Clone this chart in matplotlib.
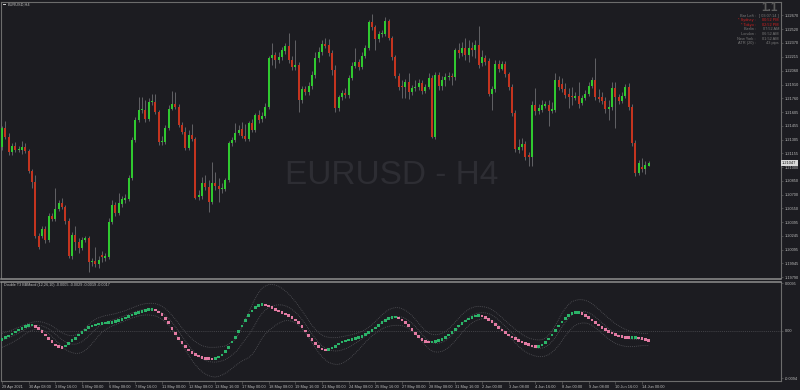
import numpy as np
import matplotlib
matplotlib.use("Agg")
import matplotlib.pyplot as plt
from matplotlib.patches import Rectangle
from matplotlib.transforms import blended_transform_factory

# EURUSD H4 candles, 29 Apr 2021 .. 14 Jun 2021
opens = [
    1.21223, 1.21432, 1.21333, 1.21168, 1.21234, 1.21190, 1.21190, 1.21223, 1.21179, 1.20959,
    1.20838, 1.20244, 1.20244, 1.20321, 1.20200, 1.20464, 1.20431, 1.20541, 1.20607, 1.20563,
    1.20409, 1.20024, 1.20255, 1.20178, 1.20112, 1.20200, 1.20222, 1.19958, 1.19969, 1.19936,
    1.20035, 1.20002, 1.20013, 1.20398, 1.20585, 1.20497, 1.20596, 1.20640, 1.20651, 1.20882,
    1.21300, 1.21520, 1.21630, 1.21630, 1.21531, 1.21718, 1.21718, 1.21608, 1.21278, 1.21278,
    1.21432, 1.21641, 1.21696, 1.21663, 1.21465, 1.21388, 1.21212, 1.21355, 1.21311, 1.20673,
    1.20684, 1.20827, 1.20783, 1.20618, 1.20827, 1.20794, 1.20761, 1.20761, 1.20860, 1.21267,
    1.21300, 1.21377, 1.21421, 1.21344, 1.21311, 1.21487, 1.21410, 1.21575, 1.21531, 1.21564,
    1.21663, 1.22202, 1.22235, 1.22180, 1.22213, 1.22279, 1.22334, 1.22180, 1.22103, 1.22125,
    1.21740, 1.21861, 1.21828, 1.21894, 1.22015, 1.22202, 1.22268, 1.22356, 1.22345, 1.22257,
    1.22070, 1.21652, 1.21773, 1.21817, 1.21795, 1.21982, 1.22114, 1.22158, 1.22103, 1.22224,
    1.22312, 1.22598, 1.22543, 1.22411, 1.22466, 1.22466, 1.22609, 1.22422, 1.22213, 1.22004,
    1.21894, 1.21883, 1.21938, 1.21828, 1.21872, 1.21883, 1.21927, 1.21839, 1.21883, 1.21982,
    1.21333, 1.22015, 1.21894, 1.21960, 1.21993, 1.22004, 1.21993, 1.22290, 1.22257, 1.22312,
    1.22235, 1.22312, 1.22290, 1.22345, 1.22147, 1.22202, 1.22169, 1.21806, 1.21861, 1.22136,
    1.22081, 1.22136, 1.22026, 1.21883, 1.21597, 1.21190, 1.21223, 1.21256, 1.21135, 1.21113,
    1.21685, 1.21619, 1.21630, 1.21674, 1.21685, 1.21619, 1.21630, 1.21960, 1.21916, 1.21861,
    1.21806, 1.21784, 1.21762, 1.21784, 1.21707, 1.21762, 1.21806, 1.21894, 1.21960, 1.21773,
    1.21773, 1.21729, 1.21641, 1.21663, 1.21872, 1.21773, 1.21729, 1.21784, 1.21883, 1.21663,
    1.21267, 1.20937, 1.21003, 1.20981, 1.21014]
highs = [
    1.21454, 1.21509, 1.21377, 1.21267, 1.21278, 1.21234, 1.21289, 1.21267, 1.21201, 1.20981,
    1.20915, 1.20277, 1.20354, 1.20354, 1.20497, 1.20497, 1.20772, 1.20640, 1.20662, 1.20585,
    1.20442, 1.20288, 1.20354, 1.20222, 1.20233, 1.20244, 1.20244, 1.20002, 1.20123, 1.20024,
    1.20079, 1.20057, 1.20442, 1.20640, 1.20618, 1.20717, 1.20684, 1.20706, 1.20915, 1.21333,
    1.21553, 1.21773, 1.21773, 1.21740, 1.21762, 1.21806, 1.21806, 1.21630, 1.21344, 1.21465,
    1.21685, 1.21839, 1.21828, 1.21696, 1.21498, 1.21443, 1.21410, 1.21476, 1.21333, 1.20750,
    1.20893, 1.20915, 1.20860, 1.21058, 1.20948, 1.20882, 1.20827, 1.20882, 1.21289, 1.21333,
    1.21487, 1.21465, 1.21498, 1.21476, 1.21509, 1.21531, 1.21597, 1.21630, 1.21608, 1.21707,
    1.22224, 1.22367, 1.22268, 1.22268, 1.22323, 1.22367, 1.22477, 1.22224, 1.22400, 1.22158,
    1.21894, 1.21894, 1.21938, 1.22059, 1.22268, 1.22323, 1.22400, 1.22422, 1.22411, 1.22290,
    1.22125, 1.21795, 1.21850, 1.21872, 1.22015, 1.22158, 1.22312, 1.22191, 1.22268, 1.22345,
    1.22620, 1.22686, 1.22565, 1.22499, 1.22510, 1.22653, 1.22631, 1.22444, 1.22235, 1.22037,
    1.21960, 1.21971, 1.22037, 1.21905, 1.21960, 1.21971, 1.21960, 1.21916, 1.22037, 1.22015,
    1.22048, 1.22048, 1.22004, 1.22037, 1.22048, 1.22037, 1.22312, 1.22367, 1.22378, 1.22422,
    1.22400, 1.22378, 1.22400, 1.22554, 1.22290, 1.22235, 1.22202, 1.21894, 1.22180, 1.22180,
    1.22169, 1.22169, 1.22048, 1.21916, 1.21630, 1.21311, 1.21322, 1.21289, 1.21168, 1.21729,
    1.21872, 1.21696, 1.21740, 1.21729, 1.21740, 1.21718, 1.22037, 1.22004, 1.21982, 1.21927,
    1.21872, 1.21883, 1.21828, 1.21938, 1.21795, 1.21850, 1.21938, 1.21993, 1.22202, 1.21861,
    1.21828, 1.21773, 1.21740, 1.21938, 1.21938, 1.21806, 1.21828, 1.21916, 1.21927, 1.21696,
    1.21300, 1.21080, 1.21102, 1.21069, 1.21069]
lows = [
    1.21190, 1.21311, 1.21135, 1.21135, 1.21168, 1.21168, 1.21146, 1.21157, 1.20937, 1.20772,
    1.20222, 1.20101, 1.20222, 1.20167, 1.20178, 1.20409, 1.20409, 1.20519, 1.20541, 1.20376,
    1.20002, 1.19991, 1.20090, 1.20057, 1.20090, 1.20178, 1.19848, 1.19914, 1.19903, 1.19892,
    1.19958, 1.19969, 1.19991, 1.20376, 1.20464, 1.20475, 1.20563, 1.20607, 1.20629, 1.20860,
    1.21278, 1.21498, 1.21597, 1.21498, 1.21509, 1.21685, 1.21586, 1.21245, 1.21245, 1.21256,
    1.21410, 1.21630, 1.21641, 1.21443, 1.21366, 1.21190, 1.21190, 1.21289, 1.20651, 1.20640,
    1.20651, 1.20750, 1.20508, 1.20596, 1.20750, 1.20618, 1.20717, 1.20739, 1.20838, 1.21234,
    1.21278, 1.21355, 1.21322, 1.21289, 1.21289, 1.21388, 1.21388, 1.21487, 1.21498, 1.21542,
    1.21641, 1.22125, 1.22092, 1.22147, 1.22180, 1.22246, 1.22147, 1.22070, 1.22070, 1.21608,
    1.21707, 1.21795, 1.21795, 1.21861, 1.21982, 1.22158, 1.22235, 1.22312, 1.22224, 1.22015,
    1.21608, 1.21619, 1.21740, 1.21762, 1.21762, 1.21960, 1.22092, 1.22070, 1.22081, 1.22202,
    1.22290, 1.22510, 1.22290, 1.22378, 1.22433, 1.22444, 1.22400, 1.22180, 1.21982, 1.21850,
    1.21762, 1.21762, 1.21751, 1.21795, 1.21839, 1.21850, 1.21806, 1.21817, 1.21861, 1.21322,
    1.21311, 1.21850, 1.21850, 1.21894, 1.21960, 1.21905, 1.21960, 1.22202, 1.22224, 1.22180,
    1.22158, 1.22224, 1.22202, 1.22092, 1.22114, 1.22125, 1.21784, 1.21630, 1.21828, 1.22048,
    1.22070, 1.21993, 1.21850, 1.21564, 1.21168, 1.21157, 1.21190, 1.21080, 1.21014, 1.21014,
    1.21575, 1.21586, 1.21608, 1.21652, 1.21454, 1.21597, 1.21608, 1.21850, 1.21828, 1.21762,
    1.21652, 1.21685, 1.21740, 1.21652, 1.21685, 1.21740, 1.21784, 1.21872, 1.21740, 1.21718,
    1.21696, 1.21597, 1.21520, 1.21630, 1.21432, 1.21696, 1.21707, 1.21762, 1.21630, 1.21234,
    1.20904, 1.20915, 1.20948, 1.20926, 1.21014]
closes = [
    1.21432, 1.21333, 1.21168, 1.21234, 1.21190, 1.21190, 1.21223, 1.21179, 1.20959, 1.20838,
    1.20244, 1.20123, 1.20321, 1.20200, 1.20464, 1.20431, 1.20541, 1.20607, 1.20563, 1.20409,
    1.20024, 1.20255, 1.20178, 1.20112, 1.20200, 1.20222, 1.19958, 1.19958, 1.19936, 1.19980,
    1.20013, 1.20024, 1.20398, 1.20585, 1.20497, 1.20607, 1.20651, 1.20662, 1.20882, 1.21300,
    1.21520, 1.21630, 1.21630, 1.21531, 1.21718, 1.21718, 1.21608, 1.21278, 1.21289, 1.21432,
    1.21641, 1.21696, 1.21663, 1.21465, 1.21388, 1.21212, 1.21355, 1.21311, 1.20662, 1.20695,
    1.20827, 1.20783, 1.20618, 1.20827, 1.20794, 1.20761, 1.20772, 1.20860, 1.21267, 1.21300,
    1.21377, 1.21410, 1.21344, 1.21311, 1.21487, 1.21410, 1.21575, 1.21520, 1.21564, 1.21663,
    1.22202, 1.22235, 1.22180, 1.22213, 1.22290, 1.22334, 1.22180, 1.22103, 1.22125, 1.21740,
    1.21861, 1.21828, 1.21894, 1.22015, 1.22202, 1.22268, 1.22356, 1.22334, 1.22257, 1.22070,
    1.21652, 1.21773, 1.21817, 1.21795, 1.21982, 1.22114, 1.22158, 1.22103, 1.22224, 1.22312,
    1.22598, 1.22543, 1.22411, 1.22466, 1.22466, 1.22609, 1.22422, 1.22213, 1.22004, 1.21883,
    1.21883, 1.21938, 1.21828, 1.21872, 1.21883, 1.21927, 1.21839, 1.21883, 1.21982, 1.21333,
    1.22015, 1.21894, 1.21960, 1.21993, 1.22004, 1.21993, 1.22290, 1.22257, 1.22312, 1.22235,
    1.22312, 1.22290, 1.22345, 1.22125, 1.22213, 1.22158, 1.21806, 1.21861, 1.22136, 1.22081,
    1.22136, 1.22026, 1.21883, 1.21597, 1.21201, 1.21223, 1.21256, 1.21113, 1.21113, 1.21685,
    1.21619, 1.21652, 1.21685, 1.21696, 1.21619, 1.21641, 1.21960, 1.21883, 1.21861, 1.21795,
    1.21773, 1.21773, 1.21784, 1.21696, 1.21762, 1.21806, 1.21894, 1.21960, 1.21773, 1.21751,
    1.21729, 1.21641, 1.21663, 1.21872, 1.21773, 1.21729, 1.21784, 1.21883, 1.21663, 1.21267,
    1.20937, 1.21047, 1.20981, 1.21025, 1.21047]

# Double T3 BBMacd (12,26,10) sub-window
macd = [
    -0.00165, -0.00132, -0.00099, -0.00059, -0.00020, 0.00020, 0.00053, 0.00086, 0.00112, 0.00119,
    0.00086, 0.00053, -0.00013, -0.00079, -0.00145, -0.00211, -0.00277, -0.00310, -0.00323, -0.00297,
    -0.00244, -0.00191, -0.00145, -0.00079, -0.00033, 0.00020, 0.00066, 0.00099, 0.00119, 0.00139,
    0.00152, 0.00158, 0.00165, 0.00172, 0.00185, 0.00205, 0.00231, 0.00257, 0.00284, 0.00317,
    0.00343, 0.00363, 0.00389, 0.00409, 0.00422, 0.00429, 0.00416, 0.00376, 0.00330, 0.00251,
    0.00165, 0.00053, -0.00046, -0.00145, -0.00231, -0.00310, -0.00376, -0.00422, -0.00462, -0.00495,
    -0.00521, -0.00541, -0.00551, -0.00554, -0.00541, -0.00515, -0.00475, -0.00409, -0.00323, -0.00218,
    -0.00132, -0.00013, 0.00099, 0.00205, 0.00310, 0.00396, 0.00469, 0.00508, 0.00521, 0.00515,
    0.00495, 0.00462, 0.00429, 0.00396, 0.00363, 0.00337, 0.00304, 0.00264, 0.00218, 0.00165,
    0.00086, 0.00000, -0.00086, -0.00165, -0.00244, -0.00310, -0.00356, -0.00376, -0.00363, -0.00337,
    -0.00304, -0.00257, -0.00218, -0.00198, -0.00178, -0.00165, -0.00152, -0.00132, -0.00106, -0.00073,
    -0.00033, 0.00013, 0.00059, 0.00112, 0.00165, 0.00211, 0.00244, 0.00271, 0.00277, 0.00257,
    0.00218, 0.00165, 0.00106, 0.00033, -0.00046, -0.00112, -0.00165, -0.00205, -0.00218, -0.00218,
    -0.00205, -0.00191, -0.00165, -0.00125, -0.00079, -0.00026, 0.00033, 0.00099, 0.00152, 0.00198,
    0.00238, 0.00271, 0.00297, 0.00304, 0.00297, 0.00271, 0.00231, 0.00185, 0.00132, 0.00073,
    0.00020, -0.00033, -0.00079, -0.00119, -0.00152, -0.00185, -0.00218, -0.00244, -0.00271, -0.00297,
    -0.00310, -0.00304, -0.00277, -0.00224, -0.00158, -0.00079, 0.00007, 0.00099, 0.00178, 0.00244,
    0.00304, 0.00343, 0.00363, 0.00363, 0.00343, 0.00310, 0.00264, 0.00218, 0.00165, 0.00119,
    0.00073, 0.00033, -0.00007, -0.00040, -0.00066, -0.00099, -0.00112, -0.00125, -0.00132, -0.00125,
    -0.00122, -0.00139, -0.00152, -0.00172, -0.00191]
band_upper = [
    -0.00046, -0.00026, -0.00007, 0.00020, 0.00046, 0.00073, 0.00099, 0.00125, 0.00152, 0.00172,
    0.00185, 0.00185, 0.00178, 0.00158, 0.00132, 0.00099, 0.00053, 0.00007, -0.00033, -0.00066,
    -0.00086, -0.00092, -0.00079, -0.00046, 0.00000, 0.00059, 0.00125, 0.00185, 0.00231, 0.00264,
    0.00284, 0.00304, 0.00317, 0.00330, 0.00343, 0.00363, 0.00383, 0.00403, 0.00429, 0.00455,
    0.00482, 0.00508, 0.00528, 0.00541, 0.00548, 0.00548, 0.00541, 0.00521, 0.00488, 0.00442,
    0.00383, 0.00310, 0.00231, 0.00145, 0.00059, -0.00020, -0.00092, -0.00158, -0.00211, -0.00257,
    -0.00290, -0.00310, -0.00323, -0.00323, -0.00323, -0.00317, -0.00310, -0.00297, -0.00257, -0.00211,
    -0.00165, -0.00059, 0.00086, 0.00231, 0.00363, 0.00515, 0.00647, 0.00759, 0.00845, 0.00891,
    0.00917, 0.00924, 0.00911, 0.00884, 0.00845, 0.00792, 0.00733, 0.00660, 0.00581, 0.00495,
    0.00403, 0.00304, 0.00205, 0.00112, 0.00033, -0.00033, -0.00079, -0.00112, -0.00125, -0.00132,
    -0.00132, -0.00125, -0.00112, -0.00099, -0.00086, -0.00073, -0.00053, -0.00033, -0.00007, 0.00026,
    0.00073, 0.00125, 0.00185, 0.00251, 0.00317, 0.00376, 0.00422, 0.00449, 0.00462, 0.00462,
    0.00442, 0.00409, 0.00363, 0.00304, 0.00231, 0.00152, 0.00073, 0.00007, -0.00040, -0.00066,
    -0.00073, -0.00066, -0.00046, -0.00013, 0.00040, 0.00106, 0.00178, 0.00251, 0.00323, 0.00383,
    0.00429, 0.00462, 0.00482, 0.00488, 0.00482, 0.00475, 0.00455, 0.00422, 0.00376, 0.00323,
    0.00264, 0.00205, 0.00145, 0.00086, 0.00033, -0.00020, -0.00066, -0.00106, -0.00139, -0.00158,
    -0.00172, -0.00178, -0.00172, -0.00139, -0.00079, 0.00007, 0.00112, 0.00231, 0.00350, 0.00449,
    0.00528, 0.00581, 0.00607, 0.00620, 0.00620, 0.00607, 0.00581, 0.00541, 0.00488, 0.00429,
    0.00370, 0.00310, 0.00251, 0.00198, 0.00145, 0.00106, 0.00066, 0.00033, 0.00007, -0.00013,
    -0.00026, -0.00040, -0.00046, -0.00046, -0.00046]
band_lower = [
    -0.00323, -0.00297, -0.00264, -0.00231, -0.00191, -0.00152, -0.00106, -0.00059, -0.00020, 0.00013,
    0.00033, 0.00040, 0.00026, -0.00007, -0.00053, -0.00112, -0.00178, -0.00244, -0.00310, -0.00363,
    -0.00402, -0.00429, -0.00442, -0.00442, -0.00422, -0.00383, -0.00323, -0.00251, -0.00172, -0.00092,
    -0.00026, 0.00026, 0.00066, 0.00099, 0.00125, 0.00152, 0.00178, 0.00205, 0.00231, 0.00257,
    0.00277, 0.00297, 0.00310, 0.00317, 0.00317, 0.00310, 0.00297, 0.00271, 0.00231, 0.00178,
    0.00112, 0.00033, -0.00059, -0.00158, -0.00264, -0.00376, -0.00482, -0.00581, -0.00667, -0.00746,
    -0.00805, -0.00851, -0.00884, -0.00904, -0.00911, -0.00898, -0.00871, -0.00838, -0.00792, -0.00739,
    -0.00686, -0.00640, -0.00594, -0.00561, -0.00528, -0.00468, -0.00376, -0.00257, -0.00145, -0.00059,
    0.00007, 0.00059, 0.00112, 0.00152, 0.00185, 0.00205, 0.00205, 0.00191, 0.00165, 0.00119,
    0.00053, -0.00033, -0.00132, -0.00231, -0.00330, -0.00429, -0.00508, -0.00574, -0.00620, -0.00647,
    -0.00660, -0.00660, -0.00640, -0.00607, -0.00561, -0.00501, -0.00435, -0.00370, -0.00297, -0.00224,
    -0.00158, -0.00099, -0.00046, 0.00000, 0.00040, 0.00073, 0.00092, 0.00106, 0.00112, 0.00112,
    0.00106, 0.00086, 0.00053, 0.00007, -0.00053, -0.00125, -0.00205, -0.00284, -0.00350, -0.00396,
    -0.00416, -0.00416, -0.00402, -0.00370, -0.00323, -0.00264, -0.00191, -0.00112, -0.00033, 0.00040,
    0.00106, 0.00158, 0.00198, 0.00224, 0.00244, 0.00244, 0.00231, 0.00205, 0.00165, 0.00112,
    0.00046, -0.00020, -0.00092, -0.00165, -0.00237, -0.00304, -0.00363, -0.00409, -0.00449, -0.00475,
    -0.00495, -0.00508, -0.00508, -0.00495, -0.00468, -0.00422, -0.00363, -0.00284, -0.00191, -0.00099,
    -0.00013, 0.00059, 0.00112, 0.00145, 0.00158, 0.00158, 0.00145, 0.00112, 0.00066, 0.00013,
    -0.00046, -0.00106, -0.00158, -0.00205, -0.00244, -0.00271, -0.00290, -0.00304, -0.00310, -0.00310,
    -0.00304, -0.00297, -0.00290, -0.00290, -0.00290]

time_labels = ["29 Apr 2021", "30 Apr 08:00", "3 May 16:00", "5 May 00:00", "6 May 08:00",
               "7 May 16:00", "11 May 00:00", "12 May 08:00", "13 May 16:00", "17 May 00:00",
               "18 May 08:00", "19 May 16:00", "21 May 00:00", "24 May 08:00", "25 May 16:00",
               "27 May 00:00", "28 May 08:00", "31 May 16:00", "2 Jun 00:00", "3 Jun 08:00",
               "4 Jun 16:00", "8 Jun 00:00", "9 Jun 08:00", "10 Jun 16:00", "14 Jun 00:00"]
bars_per_label = 8
price_ticks = [1.22670, 1.22520, 1.22370, 1.22215, 1.22060, 1.21910, 1.21760, 1.21605,
               1.21455, 1.21305, 1.21155, 1.21000, 1.20850, 1.20700, 1.20550, 1.20395,
               1.20245, 1.20095, 1.19945, 1.19790]
macd_ticks = [0.0095, 0.0, -0.0094]
macd_tick_labels = ["0.0095", "0.00", "-0.0094"]

info_lines = [("Bar Left", "[ 03:07:14 ]", False),
              ("* Sydney", "00:52 PM", True),
              ("* Tokyo", "02:52 PM", True),
              ("Berlin", "07:52 AM", False),
              ("London", "06:52 AM", False),
              ("New York", "01:52 AM", False),
              ("ATR (20)", "43 pips", False)]

BG = "#1c1c21"
BULL = "#30c930"
BEAR = "#c4341f"
WICK = "#626266"
DOT_UP = "#2bb368"
DOT_DN = "#e27aa2"
BAND = "#55555a"
FRAME = "#6c6c6c"
SEP = "#8e8e8e"
TXT = "#bcbcbc"

plt.rcParams["font.family"] = ["Liberation Sans", "DejaVu Sans"]

W, H = 800, 390
fig = plt.figure(figsize=(W / 100, H / 100), dpi=100, facecolor=BG)


def box(x0, y0, x1, y1):
    # pixel rectangle (top-left origin) -> figure fraction
    return [x0 / W, 1 - y1 / H, (x1 - x0) / W, (y1 - y0) / H]


ax = fig.add_axes(box(1, 2, 781, 278.5), facecolor=BG)
sub = fig.add_axes(box(1, 281.5, 781, 381), facecolor=BG, sharex=ax)

o, h, l, c = (np.array(v) for v in (opens, highs, lows, closes))
x = np.arange(len(c))
bull = c >= o

# candles
ax.vlines(x, l, h, color=WICK, lw=0.7, zorder=2)
ax.bar(x, np.maximum(np.abs(c - o), 0.00009), bottom=np.minimum(o, c), width=0.62,
       color=np.where(bull, BULL, BEAR), lw=0, zorder=3)
ax.set_xlim(-0.3, 233.7)
ax.set_ylim(1.197765, 1.22818)

ax.text(0.5013, 0.3743, "EURUSD - H4", transform=ax.transAxes, fontsize=24,
        color="#2d2d33", ha="center", va="center", zorder=0)

ax.yaxis.tick_right()
ax.set_yticks(price_ticks)
ax.set_yticklabels([f"{p:.5f}" for p in price_ticks])
ax.tick_params(axis="y", labelsize=2.8, labelcolor=TXT, color=FRAME, length=1.5,
               width=0.4, pad=1.2)
ax.tick_params(axis="x", bottom=False, labelbottom=False)

tr = blended_transform_factory(ax.transAxes, ax.transData)
ax.text(1.0015, c[-1], f"{c[-1]:.5f}", transform=tr, fontsize=2.8, color="#111111",
        ha="left", va="center", clip_on=False, zorder=6,
        bbox=dict(boxstyle="square,pad=0.3", fc="#d9d9d9", ec="none"))

# indicator window
m = np.array(macd)
up = np.array(band_upper)
lo = np.array(band_lower)
mid = (up + lo) / 2
dots = (0, (1, 1.3))
sub.axhline(0, color="#4e4e53", lw=0.6, ls=dots, zorder=1)
for band in (up, mid, lo):
    sub.plot(x, band, color=BAND, lw=0.6, ls=dots, zorder=2)
rising = np.diff(m, prepend=m[0]) >= 0
sub.scatter(x, m, s=4.2, marker="s", c=np.where(rising, DOT_UP, DOT_DN),
            linewidths=0, zorder=3)
sub.set_ylim(-0.0099, 0.0098)

sub.yaxis.tick_right()
sub.set_yticks(macd_ticks)
sub.set_yticklabels(macd_tick_labels)
sub.tick_params(axis="y", labelsize=2.8, labelcolor=TXT, color=FRAME, length=1.5,
                width=0.4, pad=1.2)
sub.set_xticks(np.arange(len(time_labels)) * bars_per_label)
sub.set_xticklabels(time_labels)
for lab in sub.get_xticklabels():
    lab.set_horizontalalignment("left")
sub.tick_params(axis="x", labelsize=2.8, labelcolor=TXT, color=FRAME, length=2,
                width=0.4, pad=1.0)

for a in (ax, sub):
    for s in a.spines.values():
        s.set_color(FRAME)
        s.set_linewidth(0.8)
ax.spines["bottom"].set_color(SEP)
ax.spines["bottom"].set_linewidth(1.1)
sub.spines["top"].set_color(SEP)
sub.spines["top"].set_linewidth(1.1)

# window captions and info panel
fig.add_artist(Rectangle((3 / W, 1 - 5.4 / H), 2.8 / W, 1.4 / H,
                         transform=fig.transFigure, color="#c8c8c8", lw=0))
fig.text(7.5 / W, 1 - 4.6 / H, "EURUSD,H4", fontsize=2.8, color=TXT, va="center")
fig.text(4 / W, 1 - 284.6 / H,
         f"Double T3 BBMacd (12,26,10) {up[-1]:.4f} {lo[-1]:.4f} {m[-1]:.4f} {mid[-1]:.4f}",
         fontsize=2.7, color=TXT, va="center")
fig.text(778 / W, 1 - 8 / H, "1.1", fontsize=8.5, fontweight="bold", color="#5c5c5c",
         ha="right", va="center")
for k, (name, val, hot) in enumerate(info_lines):
    yy = 1 - (15.7 + 4.6 * k) / H
    col = "#d02020" if hot else "#7a7a7a"
    fig.text(756 / W, yy, name + " :", fontsize=2.8, color=col, ha="right", va="center")
    fig.text(779 / W, yy, val, fontsize=2.8, color=col, ha="right", va="center")

fig.savefig("out.png", dpi=100, facecolor=BG)
